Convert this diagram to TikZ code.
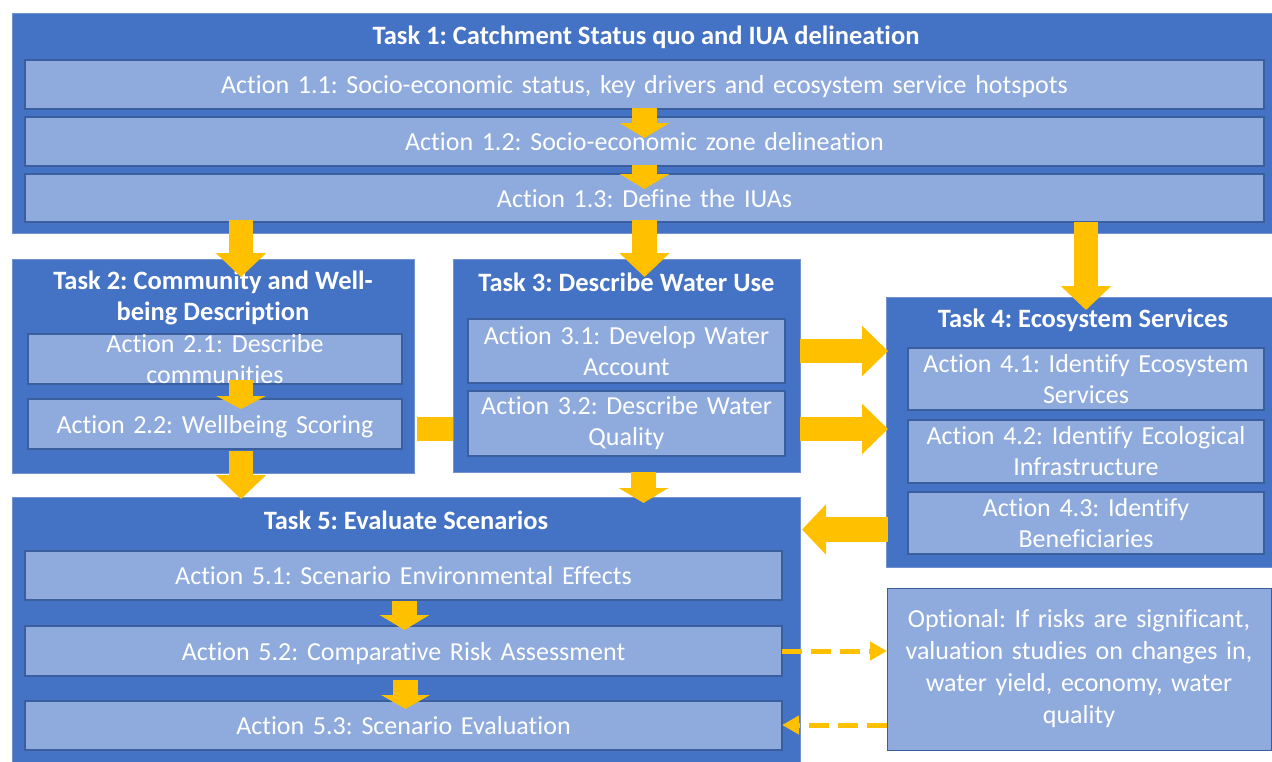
\documentclass[tikz,border=0pt]{standalone}
\usepackage{fontspec}
\setmainfont{Carlito}[Ligatures=CommonOff]
\usetikzlibrary{arrows.meta}
\definecolor{taskblue}{HTML}{4472C4}
\definecolor{actblue}{HTML}{8FAADC}
\definecolor{actedge}{HTML}{3A5E9E}
\definecolor{taskedge}{HTML}{7393CF}
\definecolor{arrowyel}{HTML}{FFC000}
\frenchspacing
\begin{document}
\begin{tikzpicture}[x=1pt,y=-1pt,
  taskbox/.style={draw=taskedge, line width=0.8pt, fill=taskblue, anchor=north west, inner sep=0pt, outer sep=0pt},
  actbox/.style={draw=actedge, line width=1.4pt, fill=actblue, anchor=north west, inner sep=0pt, outer sep=0pt, text=white, font=\fontsize{26}{31}\selectfont, align=center},
  oneline/.style={text height=18pt, text depth=0pt},
  tasktitle/.style={text=white, font=\fontsize{26.5}{31}\selectfont\bfseries, align=center, inner sep=0pt},
  bigarrow/.style={draw=arrowyel, line width=24.5pt, -{Triangle[length=24pt, width=49pt]}},
  smallarrow/.style={draw=arrowyel, line width=24.5pt, -{Triangle[length=15pt, width=49pt]}},
  sidearrow/.style={draw=arrowyel, line width=24.5pt, -{Triangle[length=26pt, width=49pt]}},
  dasharrow/.style={draw=arrowyel, line width=5pt, dash pattern=on 20pt off 9pt, -{Triangle[length=17pt, width=18pt]}},
]
\useasboundingbox (0,0) rectangle (1272,761);
\fill[white] (0,0) rectangle (1272,761);

% Task boxes
\node[taskbox, minimum width=1262pt, minimum height=220pt] (t1) at (12,13) {};
\node[taskbox, minimum width=402pt, minimum height=214pt] (t2) at (12,259) {};
\node[taskbox, minimum width=347pt, minimum height=213pt] (t3) at (453,259) {};
\node[taskbox, minimum width=388pt, minimum height=270pt] (t4) at (886,297) {};
\node[taskbox, minimum width=788pt, minimum height=270pt] (t5) at (12,497) {};

% Titles
\node[tasktitle] (t1title) at (646,37) {Task 1: Catchment Status quo and IUA delineation};
\node[tasktitle] (t2title) at (213,297.5) {Task 2: Community and Well-\\being Description};
\node[tasktitle] (t3title) at (626.5,282) {Task 3: Describe Water Use};
\node[tasktitle] (t4title) at (1083,320) {Task 4: Ecosystem Services};
\node[tasktitle] (t5title) at (406,520) {Task 5: Evaluate Scenarios};

% Task 1 actions
\node[actbox, oneline, minimum width=1239pt, text width=1239pt, minimum height=49pt] (a1) at (25,60) {Action 1.1: Socio-economic status, key drivers and ecosystem service hotspots};
\node[actbox, oneline, minimum width=1239pt, text width=1239pt, minimum height=49pt] (a2) at (25,117) {Action 1.2: Socio-economic zone delineation};
\node[actbox, oneline, minimum width=1239pt, text width=1239pt, minimum height=48pt] (a3) at (25,174) {Action 1.3: Define the IUAs};

% Task 2 actions
\node[actbox, minimum width=374pt, text width=374pt, minimum height=50pt] (a21) at (28,334) {Action 2.1: Describe\\communities};
\node[actbox, oneline, minimum width=374pt, text width=374pt, minimum height=50pt] (a22) at (28,399) {Action 2.2: Wellbeing Scoring};

% Task 3 actions
\node[actbox, minimum width=317pt, text width=317pt, minimum height=64pt] (a31) at (468,319) {Action 3.1: Develop Water\\Account};
\node[actbox, minimum width=317pt, text width=317pt, minimum height=65pt] (a32) at (468,391) {Action 3.2: Describe Water\\Quality};

% Task 4 actions
\node[actbox, minimum width=356pt, text width=356pt, minimum height=62pt] (a41) at (908,348) {Action 4.1: Identify Ecosystem\\Services};
\node[actbox, minimum width=356pt, text width=356pt, minimum height=63pt] (a42) at (908,420) {Action 4.2: Identify Ecological\\Infrastructure};
\node[actbox, minimum width=356pt, text width=356pt, minimum height=62pt] (a43) at (908,492) {Action 4.3: Identify\\Beneficiaries};

% Task 5 actions
\node[actbox, oneline, minimum width=757pt, text width=757pt, minimum height=49pt] (a51) at (25,551) {Action 5.1: Scenario Environmental Effects};
\node[actbox, oneline, minimum width=757pt, text width=757pt, minimum height=50pt] (a52) at (25,626) {Action 5.2: Comparative Risk Assessment};
\node[actbox, oneline, minimum width=757pt, text width=757pt, minimum height=49pt] (a53) at (25,701) {Action 5.3: Scenario Evaluation};

% Optional box
\node[actbox, draw=actedge, line width=1pt, minimum width=384pt, text width=384pt, minimum height=162pt, font=\fontsize{26}{32}\selectfont] (opt) at (887,588) {Optional: If risks are significant,\\valuation studies on changes in,\\water yield, economy, water\\quality};

% Arrows within Task 1
\draw[smallarrow] ([yshift=1pt]a1.south) -- ([yshift=-21pt]a2.north);
\draw[smallarrow] ([yshift=1pt]a2.south) -- ([yshift=-15pt]a3.north);
% Task 1 -> Tasks 2, 3, 4
\draw[bigarrow] ([xshift=216pt,yshift=2pt]a3.south west) -- ([xshift=229pt,yshift=-18pt]t2.north west);
\draw[bigarrow] ([yshift=2pt]a3.south) -- ([xshift=191.5pt,yshift=-18pt]t3.north west);
\draw[bigarrow] ([xshift=1061pt]a3.south west) -- ([xshift=200pt,yshift=-13pt]t4.north west);
% Task 2 internal
\draw[smallarrow, -{Triangle[length=13pt, width=49pt]}] ([xshift=213pt,yshift=4pt]a21.south west) -- ([xshift=213pt,yshift=-10pt]a22.north west);
% Task 2 -> Task 3 (bar)
\draw[draw=arrowyel, line width=24pt] ([xshift=3pt,yshift=-170pt]t2.north east) -- ([yshift=-170pt]t3.north west);
% Task 2 -> Task 5
\draw[bigarrow] ([xshift=213pt,yshift=-2pt]a22.south west) -- ([xshift=229pt,yshift=-2pt]t5.north west);
% Task 3 -> Task 5
\draw[smallarrow] ([xshift=17pt]t3.south) -- ([xshift=631.5pt,yshift=-6pt]t5.north west);
% Task 3 -> Task 4
\draw[sidearrow] ([xshift=15pt]a31.east) -- ([xshift=2pt,yshift=-54pt]t4.north west);
\draw[sidearrow] ([xshift=15pt,yshift=-5.5pt]a32.east) -- ([xshift=2pt,yshift=-132pt]t4.north west);
% Task 4 -> Task 5
\draw[bigarrow] ([xshift=2pt,yshift=-232.5pt]t4.north west) -- ([xshift=790pt,yshift=-32.5pt]t5.north west);
% Task 5 internal
\draw[smallarrow] ([xshift=379.5pt,yshift=-1pt]a51.south west) -- ([xshift=379.5pt,yshift=-4pt]a52.north west);
\draw[smallarrow, -{Triangle[length=14pt, width=48pt]}] ([xshift=380.5pt,yshift=-4pt]a52.south west) -- ([xshift=380.5pt,yshift=-8pt]a53.north west);
% Optional dashed arrows
\draw[dasharrow] ([yshift=-25pt]a52.north east) -- ([yshift=-63pt]opt.north west);
\draw[dasharrow] ([yshift=-137pt]opt.north west) -- ([yshift=-24pt]a53.north east);
\end{tikzpicture}
\end{document}
